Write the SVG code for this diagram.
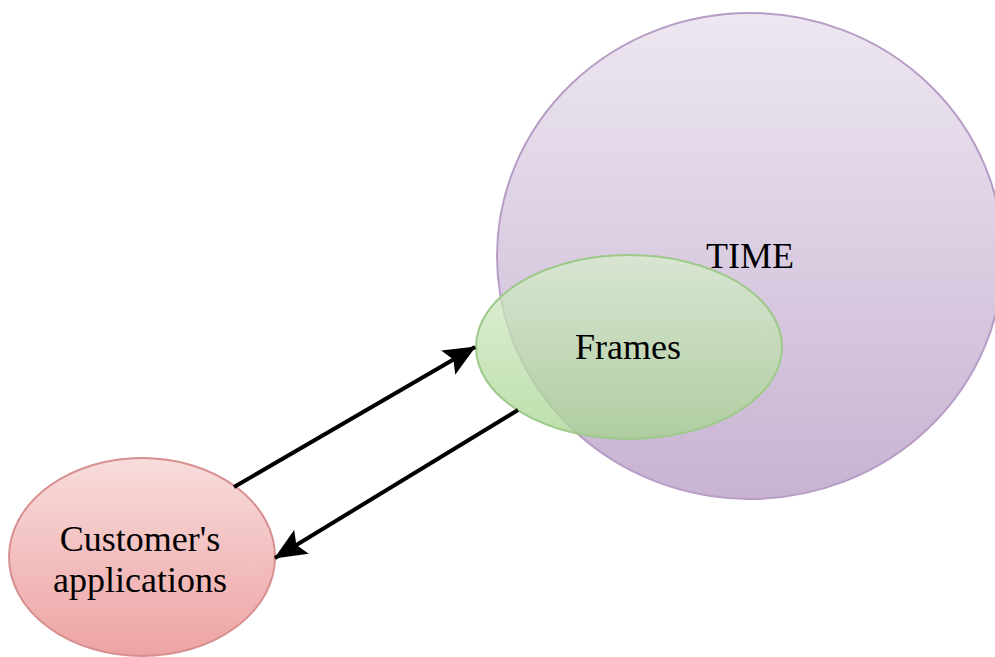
<svg xmlns="http://www.w3.org/2000/svg" width="995" height="657" viewBox="0 0 995 657">
<defs>
<linearGradient id="gPurple" x1="0" y1="0" x2="0" y2="1">
<stop offset="0" stop-color="#ede7f1"/>
<stop offset="1" stop-color="#c8b3d2"/>
</linearGradient>
<linearGradient id="gGreen" x1="0" y1="0" x2="0" y2="1">
<stop offset="0" stop-color="#d8edcd"/>
<stop offset="1" stop-color="#a6d48f"/>
</linearGradient>
<linearGradient id="gPink" x1="0" y1="0" x2="0" y2="1">
<stop offset="0" stop-color="#f8dcdc"/>
<stop offset="1" stop-color="#eea3a3"/>
</linearGradient>
<marker id="arrow" viewBox="0 0 32 28" refX="31" refY="14" markerWidth="32" markerHeight="28" orient="auto" markerUnits="userSpaceOnUse">
<path d="M0,0 L32,14 L0,28 L6,14 z" fill="#000"/>
</marker>
<style>
.lbl{font-family:"Liberation Serif","Times New Roman",serif;font-size:36px;fill:#000;text-anchor:middle}
.conn{stroke:#000;stroke-width:4;fill:none}
</style>
</defs>
<rect width="995" height="657" fill="#fff"/>
<g id="time">
<ellipse cx="750" cy="256" rx="253" ry="243" fill="url(#gPurple)" stroke="#b79dc6" stroke-width="2"/>
<text class="lbl" x="750" y="268">TIME</text>
</g>
<g id="frames">
<ellipse cx="629" cy="347" rx="153" ry="92" fill="url(#gGreen)" fill-opacity="0.75" stroke="#9dc98a" stroke-width="2"/>
<text class="lbl" x="628" y="359">Frames</text>
</g>
<g id="customer">
<ellipse cx="142" cy="557" rx="133" ry="99" fill="url(#gPink)" stroke="#d78f8f" stroke-width="2"/>
<text class="lbl" x="140" y="551">Customer's</text>
<text class="lbl" x="140" y="592">applications</text>
</g>
<g id="connectors">
<line class="conn" x1="234" y1="487" x2="475" y2="347" marker-end="url(#arrow)"/>
<line class="conn" x1="518" y1="410" x2="275" y2="558" marker-end="url(#arrow)"/>
</g>
</svg>
